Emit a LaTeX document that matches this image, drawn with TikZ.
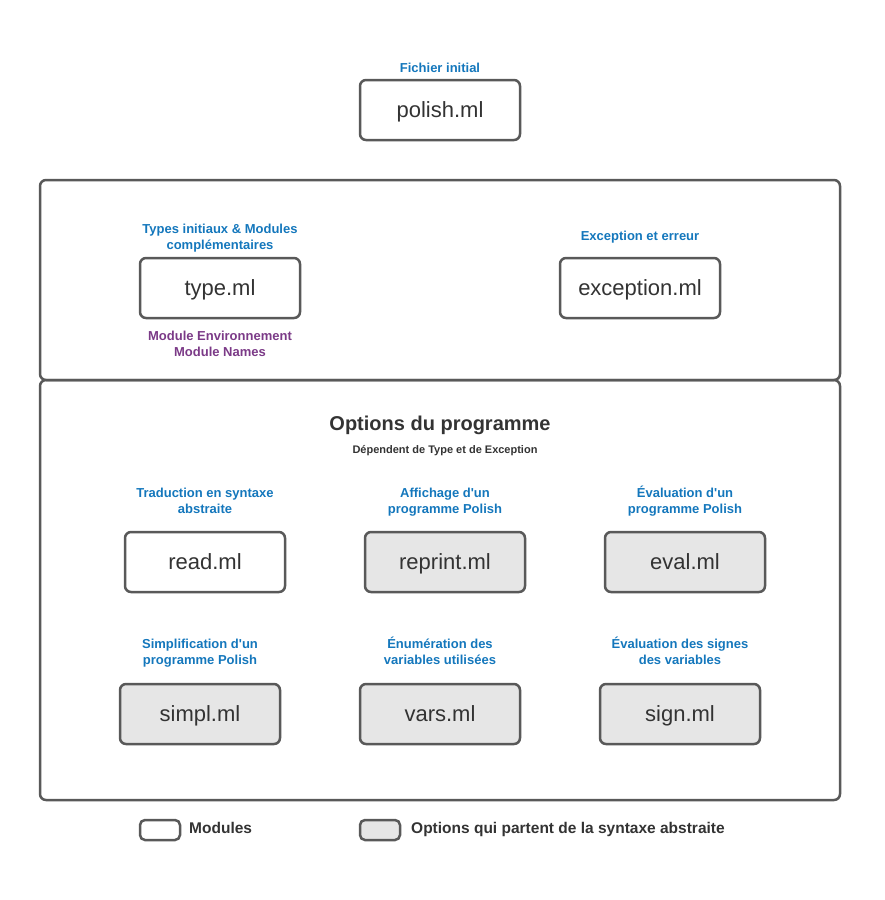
\documentclass[tikz,border=0pt]{standalone}
\usepackage{fontspec}
\setmainfont{Liberation Sans}
\definecolor{lblue}{HTML}{1477BC}
\definecolor{lpurple}{HTML}{7B3A87}
\definecolor{edge}{HTML}{595959}
\definecolor{txt}{HTML}{333333}
\definecolor{optfill}{HTML}{E6E6E6}
\tikzset{
  modbox/.style={draw=edge, line width=2.5pt, rounded corners=6pt, minimum width=160pt, minimum height=60pt, fill=white, text=txt, font=\fontsize{22}{26}\selectfont, inner sep=0pt, text height=18pt, text depth=3pt},
  optbox/.style={modbox, fill=optfill},
  frame/.style={draw=edge, line width=2.5pt, rounded corners=6pt},
  bluelbl/.style={text=lblue, font=\bfseries\fontsize{13}{16}\selectfont, align=center, inner sep=0pt},
  purplelbl/.style={bluelbl, text=lpurple},
  onelbl/.style={bluelbl, text height=9.5pt, text depth=2.8pt},
  legbox/.style={draw=edge, line width=2.5pt, rounded corners=5pt, minimum width=40pt, minimum height=20pt, inner sep=0pt},
  legtxt/.style={text=txt, font=\bfseries\fontsize{15.5}{18}\selectfont, anchor=west, inner sep=0pt, text height=11pt, text depth=3.2pt}
}
\begin{document}
\begin{tikzpicture}[x=1pt,y=-1pt]
\useasboundingbox (0,0) rectangle (885,900);
% frames
\draw[frame] (40,180) rectangle (840,380);
\draw[frame] (40,380) rectangle (840,800);
% top
\node[onelbl] (lpolish) at (440,69) {Fichier initial};
\node[modbox] (polish) at (440,110) {polish.ml};
% upper frame
\node[bluelbl] (ltype) at (220,238) {Types initiaux \& Modules\\complémentaires};
\node[modbox] (type) at (220,288) {type.ml};
\node[purplelbl] (ltype2) at (220,344) {Module Environnement\\Module Names};
\node[onelbl] (lexc) at (640,237) {Exception et erreur};
\node[modbox] (exc) at (640,288) {exception.ml};
% lower frame
\node[text=txt, font=\bfseries\fontsize{20}{24}\selectfont, inner sep=0pt, text height=14.5pt, text depth=4.2pt] (title) at (440,425) {Options du programme};
\node[text=txt, font=\bfseries\fontsize{11}{13}\selectfont, inner sep=0pt, text height=8pt, text depth=2.4pt] (subtitle) at (445,451) {Dépendent de Type et de Exception};
\node[bluelbl] (lread) at (205,501) {Traduction en syntaxe\\abstraite};
\node[modbox] (read) at (205,562) {read.ml};
\node[bluelbl] (lreprint) at (445,502) {Affichage d\textquotesingle un\\programme Polish};
\node[optbox] (reprint) at (445,562) {reprint.ml};
\node[bluelbl] (leval) at (685,501) {Évaluation d\textquotesingle un\\programme Polish};
\node[optbox] (eval) at (685,562) {eval.ml};
\node[bluelbl] (lsimpl) at (200,653) {Simplification d\textquotesingle un\\programme Polish};
\node[optbox] (simpl) at (200,714) {simpl.ml};
\node[bluelbl] (lvars) at (440,651) {Énumération des\\variables utilisées};
\node[optbox] (vars) at (440,714) {vars.ml};
\node[bluelbl] (lsign) at (680,651) {Évaluation des signes\\des variables};
\node[optbox] (sign) at (680,714) {sign.ml};
% legend
\node[legbox, fill=white] (leg1) at (160,830) {};
\node[legtxt] (leg1t) at (189,830) {Modules};
\node[legbox, fill=optfill] (leg2) at (380,830) {};
\node[legtxt] (leg2t) at (411,830) {Options qui partent de la syntaxe abstraite};
\end{tikzpicture}
\end{document}
